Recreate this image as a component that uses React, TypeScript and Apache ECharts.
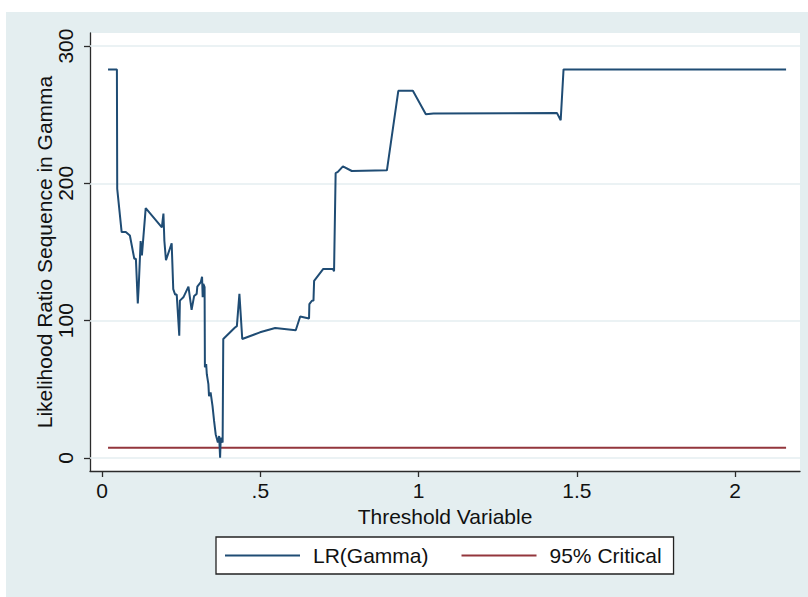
import React, { useEffect, useRef } from "react";
import * as echarts from "echarts";

// Threshold values (x) and likelihood-ratio statistic LR(gamma) (y)
const thresholds = [
  0.019, 0.047, 0.048, 0.062, 0.075, 0.088, 0.102, 0.107, 0.113, 0.116,
  0.122, 0.126, 0.138, 0.189, 0.194, 0.197, 0.202, 0.22, 0.225, 0.231,
  0.236, 0.244, 0.246, 0.257, 0.273, 0.283, 0.291, 0.299, 0.301, 0.312,
  0.316, 0.318, 0.32, 0.324, 0.325, 0.329, 0.331, 0.336, 0.338, 0.343,
  0.349, 0.354, 0.359, 0.366, 0.37, 0.373, 0.375, 0.381, 0.383, 0.42,
  0.426, 0.434, 0.443, 0.499, 0.547, 0.612, 0.626, 0.654, 0.655, 0.663,
  0.668, 0.67, 0.699, 0.729, 0.733, 0.738, 0.745, 0.761, 0.789, 0.9,
  0.936, 0.982, 1.023, 1.047, 1.437, 1.449, 1.458, 2.161,
];
const lrValues = [
  283, 283, 196, 164.5, 164.5, 162, 145, 145, 112.6, 125.5,
  158, 147.5, 182, 168, 178, 158, 144, 156.4, 123, 119,
  119, 89, 114.6, 117, 124.8, 107.8, 118, 119.5, 124.8, 128,
  132, 117, 126.8, 124.5, 66, 68.4, 61, 53.8, 45, 47.7,
  38, 27, 17.3, 11.2, 16, 0.2, 14.8, 11.2, 86.6, 95,
  96, 119.5, 86.6, 91.5, 94.7, 93, 103, 101.5, 112, 114.5,
  114.6, 129, 137.7, 137.7, 136, 207.5, 208.3, 212.4, 209, 209.5,
  267.4, 267.4, 250.4, 250.8, 251.3, 246, 283, 283,
];

// 95% critical value, drawn across the threshold range
const criticalValue = 7.35;
const criticalRange = [0.019, 2.161];

const xTicks = [0, 0.5, 1, 1.5, 2];
const yTicks = [0, 100, 200, 300];

const FONT = "'Liberation Sans', Arial, Helvetica, sans-serif";
const LR_COLOR = "#1f4c74";
const CRIT_COLOR = "#93363c";
const AXIS_COLOR = "#2b2b2b";
const TEXT_COLOR = "#111111";

const fmtX = (v: number) => {
  const s = String(v);
  return s.startsWith("0.") ? s.slice(1) : s;
};

export default function App() {
  const ref = useRef<HTMLDivElement>(null);

  useEffect(() => {
    if (!ref.current) return;
    const chart = echarts.init(ref.current, undefined, { renderer: "svg" });

    const lrData = thresholds.map((t, i) => [t, lrValues[i]]);
    const critData = criticalRange.map((t) => [t, criticalValue]);

    chart.setOption({
      animation: false,
      backgroundColor: "#ffffff",
      graphic: [
        {
          type: "rect",
          z: -10,
          silent: true,
          shape: { x: 6, y: 12, width: 802, height: 585 },
          style: { fill: "#e4eef0" },
        },
      ],
      grid: {
        left: 90,
        right: 8,
        top: 33,
        bottom: 126,
        show: true,
        backgroundColor: "#ffffff",
        borderWidth: 0,
      },
      xAxis: {
        type: "value",
        min: -0.038,
        max: 2.205,
        name: "Threshold Variable",
        nameLocation: "middle",
        nameGap: 35,
        nameMoveOverlap: false,
        nameTextStyle: { fontFamily: FONT, fontSize: 21, color: TEXT_COLOR },
        axisLine: { show: true, onZero: false, lineStyle: { color: AXIS_COLOR, width: 1.3 } },
        axisTick: {
          show: true,
          length: 6,
          customValues: xTicks,
          lineStyle: { color: AXIS_COLOR, width: 1.3 },
        },
        axisLabel: {
          customValues: xTicks,
          formatter: (v: number) => fmtX(v),
          margin: 9,
          fontFamily: FONT,
          fontSize: 21,
          color: TEXT_COLOR,
        },
        splitLine: { show: false },
      },
      yAxis: {
        type: "value",
        min: -9.5,
        max: 309.5,
        name: "Likelihood Ratio Sequence in Gamma",
        nameLocation: "middle",
        nameGap: 35,
        nameMoveOverlap: false,
        nameTextStyle: { fontFamily: FONT, fontSize: 21, color: TEXT_COLOR },
        axisLine: { show: true, onZero: false, lineStyle: { color: AXIS_COLOR, width: 1.3 } },
        axisTick: {
          show: true,
          length: 6,
          customValues: yTicks,
          lineStyle: { color: AXIS_COLOR, width: 1.3 },
        },
        axisLabel: {
          customValues: yTicks,
          rotate: 90,
          margin: 14,
          fontFamily: FONT,
          fontSize: 21,
          color: TEXT_COLOR,
        },
        splitLine: { show: false },
      },
      legend: {
        left: 216,
        top: 537,
        data: ["LR(Gamma)", "95% Critical"],
        icon: "rect",
        itemWidth: 75,
        itemHeight: 2,
        itemGap: 33,
        padding: [8, 12, 8, 9],
        backgroundColor: "#ffffff",
        borderColor: "#222222",
        borderWidth: 1.3,
        borderRadius: 0,
        textStyle: { fontFamily: FONT, fontSize: 21, color: TEXT_COLOR, padding: [0, 0, 0, 8] },
      },
      series: [
        {
          name: "95% Critical",
          type: "line",
          data: critData,
          symbol: "none",
          z: 2,
          itemStyle: { color: CRIT_COLOR },
          lineStyle: { color: CRIT_COLOR, width: 2 },
          markLine: {
            silent: true,
            z: 1,
            symbol: "none",
            label: { show: false },
            lineStyle: { color: "#e4eef0", width: 1.5, type: "solid" },
            data: yTicks.map((v) => ({ yAxis: v })),
          },
        },
        {
          name: "LR(Gamma)",
          type: "line",
          data: lrData,
          symbol: "none",
          z: 3,
          itemStyle: { color: LR_COLOR },
          lineStyle: { color: LR_COLOR, width: 2 },
        },
      ],
    });

    return () => chart.dispose();
  }, []);

  return (
    <div
      ref={ref}
      style={{ position: "absolute", left: 0, top: 0, width: 808, height: 597 }}
    />
  );
}
